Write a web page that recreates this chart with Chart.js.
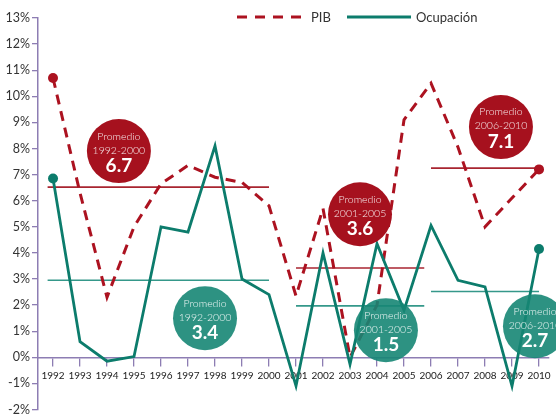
<!DOCTYPE html>
<html><head><meta charset="utf-8">
<script src="https://cdn.jsdelivr.net/npm/chart.js@4.4.1/dist/chart.umd.min.js"></script>
<style>html,body{margin:0;padding:0;background:#fff}#wrap{width:556px;height:419px;position:relative}</style>
</head><body><div id="wrap"><canvas id="c" width="556" height="419"></canvas></div>
<script>
// ---- data ----
const years = [1992,1993,1994,1995,1996,1997,1998,1999,2000,2001,2002,2003,2004,2005,2006,2007,2008,2009,2010];
const pib = [10.7,6.3,2.3,5.0,6.65,7.35,6.9,6.7,5.8,2.35,5.7,0.0,2.0,9.1,10.5,8.05,5.0,6.1,7.2];
const ocupacion = [6.85,0.6,-0.15,0.03,5.0,4.8,8.1,3.0,2.4,-1.1,4.0,-0.27,4.35,1.8,5.05,2.95,2.7,-1.1,4.15];
const periods = ['1992-2000','2001-2005','2006-2010'];
const periodStart = [1991.8, 2001, 2006];
const periodEnd = [2000, 2005.75, 2010];
const pibPromedio = ['6.7','3.6','7.1'];
const ocupPromedio = ['3.4','1.5','2.7'];
const pibPromedioLinea = [6.52, 3.42, 7.25];
const ocupPromedioLinea = [2.95, 1.97, 2.52];
const yTicks = [-2,-1,0,1,2,3,4,5,6,7,8,9,10,11,12,13];

// ---- styles ----
const RED = '#ac1220', RED_B = '#a6111e', RED_AVG = '#a82530';
const GREEN = '#0c7c6c', GREEN_B = 'rgba(22,134,116,0.9)', GREEN_AVG = '#35988a';
const AXIS = '#8d7db3';
const FONT = 'Lato, "Open Sans", sans-serif';

const n = years.length;
const endDots = years.map((_, i) => (i === 0 || i === n - 1) ? 5 : 0);
const pts = arr => years.map((y, i) => ({x: y, y: arr[i]}));
const avgSets = (levels, color) => levels.map((v, i) => ({
  data: [{x: periodStart[i], y: v}, {x: periodEnd[i], y: v}],
  borderColor: color, borderWidth: 1.6, pointRadius: 0, order: 5, showLine: true
}));

const bubbleSpots = {
  pib: [{x: 1994.44, y: 7.9}, {x: 2003.37, y: 5.48}, {x: 2008.59, y: 8.82}],
  ocu: [{x: 1997.63, y: 1.5}, {x: 2004.33, y: 1.04}, {x: 2009.85, y: 1.19}]
};

const bubblePlugin = {
  id: 'bubbles',
  afterDatasetsDraw(chart) {
    const {ctx, scales: {x, y}} = chart;
    const draw = (spots, fill, vals) => spots.forEach((s, i) => {
      const cx = x.getPixelForValue(s.x), cy = y.getPixelForValue(s.y);
      ctx.save();
      ctx.beginPath(); ctx.arc(cx, cy, 32, 0, Math.PI * 2);
      ctx.fillStyle = fill; ctx.fill();
      ctx.fillStyle = 'rgba(255,255,255,0.92)';
      ctx.textAlign = 'center'; ctx.textBaseline = 'middle';
      ctx.font = '300 10.5px ' + FONT;
      ctx.fillText('Promedio', cx, cy - 15);
      ctx.fillText(periods[i], cx, cy - 1);
      ctx.fillStyle = '#fff';
      ctx.font = 'bold 19px ' + FONT;
      ctx.fillText(vals[i], cx, cy + 15);
      ctx.restore();
    });
    draw(bubbleSpots.pib, RED_B, pibPromedio);
    draw(bubbleSpots.ocu, GREEN_B, ocupPromedio);
  }
};

const legendPlugin = {
  id: 'customLegend',
  afterDraw(chart) {
    const ctx = chart.ctx;
    ctx.save();
    ctx.lineWidth = 3;
    ctx.strokeStyle = RED; ctx.setLineDash([10, 8]);
    ctx.beginPath(); ctx.moveTo(237, 17); ctx.lineTo(301, 17); ctx.stroke();
    ctx.setLineDash([]);
    ctx.strokeStyle = GREEN;
    ctx.beginPath(); ctx.moveTo(347, 17); ctx.lineTo(411, 17); ctx.stroke();
    ctx.fillStyle = '#333'; ctx.font = '13px ' + FONT;
    ctx.textBaseline = 'middle'; ctx.textAlign = 'left';
    ctx.fillText(chart.data.datasets[0].label, 311, 18);
    ctx.fillText(chart.data.datasets[1].label, 416, 18);
    ctx.restore();
  }
};

new Chart(document.getElementById('c'), {
  type: 'line',
  data: {
    datasets: [
      {label: 'PIB', data: pts(pib), borderColor: RED, backgroundColor: RED, borderWidth: 3,
       borderDash: [10, 7], pointRadius: endDots, pointBackgroundColor: RED, pointBorderWidth: 0,
       tension: 0, order: 2},
      {label: 'Ocupación', data: pts(ocupacion), borderColor: GREEN, backgroundColor: GREEN, borderWidth: 2.8,
       pointRadius: endDots, pointBackgroundColor: GREEN, pointBorderWidth: 0, tension: 0, order: 1},
      ...avgSets(pibPromedioLinea, RED_AVG),
      ...avgSets(ocupPromedioLinea, GREEN_AVG)
    ]
  },
  options: {
    responsive: false, animation: false, devicePixelRatio: 1,
    layout: {padding: {left: 0, top: 18, right: 7, bottom: 9}},
    plugins: {legend: {display: false}, tooltip: {enabled: false}},
    scales: {
      x: {
        type: 'linear', position: {y: 0},
        min: 1991.444, max: 2010.37,
        afterBuildTicks: s => { s.ticks = years.map(v => ({value: v})); },
        ticks: {callback: v => String(v), font: {family: FONT, size: 10}, color: '#222', padding: 4, maxRotation: 0, autoSkip: false},
        grid: {drawOnChartArea: false, drawTicks: true, tickLength: 8, color: AXIS, lineWidth: 1.3},
        border: {display: true, color: AXIS, width: 1.5}
      },
      y: {
        min: -2, max: 13,
        afterBuildTicks: s => { s.ticks = yTicks.map(v => ({value: v})); },
        afterFit: s => { s.width = 38; },
        ticks: {callback: v => v + '%', font: {family: FONT, size: 12.5}, color: '#333', padding: 2},
        grid: {drawOnChartArea: false, drawTicks: true, tickLength: 6, color: AXIS, lineWidth: 1.3},
        border: {display: true, color: AXIS, width: 1.5}
      }
    }
  },
  plugins: [bubblePlugin, legendPlugin]
});
</script></body></html>
